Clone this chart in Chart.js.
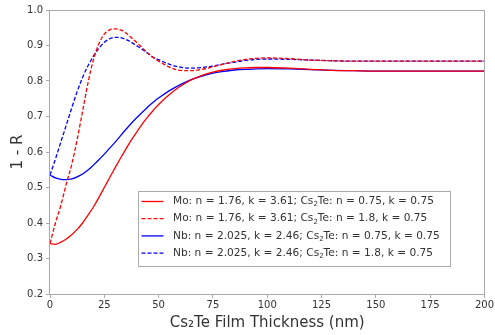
<!DOCTYPE html>
<html><head><meta charset="utf-8">
<script src="https://cdn.jsdelivr.net/npm/chart.js@4/dist/chart.umd.min.js"></script>
<style>html,body{margin:0;padding:0;background:#fff}</style>
</head><body>
<canvas id="c" width="495" height="335"></canvas>
<script>
const thickness = [0,2.5,5,7.5,10,12.5,15,17.5,20,22.5,25,27.5,30,32.5,35,37.5,40,42.5,45,47.5,50,55,60,65,70,75,80,85,90,95,100,110,120,130,140,150,160,170,180,190,200];
const moThin  = [0.342,0.340,0.346,0.355,0.367,0.382,0.400,0.422,0.445,0.472,0.500,0.528,0.556,0.583,0.609,0.634,0.657,0.679,0.699,0.717,0.734,0.762,0.785,0.803,0.816,0.825,0.831,0.835,0.837,0.838,0.838,0.836,0.833,0.830,0.829,0.828,0.828,0.828,0.828,0.828,0.828];
const moThick = [0.342,0.400,0.450,0.510,0.565,0.635,0.715,0.795,0.860,0.905,0.932,0.944,0.947,0.944,0.935,0.922,0.908,0.893,0.879,0.866,0.856,0.839,0.830,0.829,0.833,0.840,0.848,0.855,0.861,0.864,0.865,0.863,0.859,0.857,0.856,0.856,0.856,0.856,0.856,0.856,0.856];
const nbThin  = [0.535,0.527,0.523,0.522,0.524,0.530,0.538,0.549,0.563,0.578,0.594,0.611,0.628,0.646,0.664,0.681,0.697,0.712,0.727,0.740,0.752,0.773,0.790,0.804,0.814,0.822,0.827,0.831,0.833,0.834,0.835,0.834,0.832,0.830,0.829,0.828,0.828,0.828,0.828,0.828,0.828];
const nbThick = [0.535,0.580,0.628,0.676,0.724,0.770,0.810,0.843,0.870,0.892,0.909,0.919,0.923,0.922,0.917,0.909,0.899,0.889,0.878,0.867,0.860,0.847,0.839,0.836,0.838,0.842,0.848,0.853,0.858,0.861,0.862,0.861,0.859,0.857,0.856,0.856,0.856,0.856,0.856,0.856,0.856];
const seriesLabels = [
  'Mo: n = 1.76, k = 3.61; Cs₂Te: n = 0.75, k = 0.75',
  'Mo: n = 1.76, k = 3.61; Cs₂Te: n = 1.8, k = 0.75',
  'Nb: n = 2.025, k = 2.46; Cs₂Te: n = 0.75, k = 0.75',
  'Nb: n = 2.025, k = 2.46; Cs₂Te: n = 1.8, k = 0.75'
];
const xTicks = [0,25,50,75,100,125,150,175,200];
const yTicks = [0.2,0.3,0.4,0.5,0.6,0.7,0.8,0.9,1.0];
const xTitle = 'Cs₂Te Film Thickness (nm)';
const yTitle = '1 - R';

const FONT = "'DejaVu Sans', sans-serif";
const frameColor = '#aaaaaa';
const textColor = '#333333';

function pts(vals){ return thickness.map((t,i)=>({x:t,y:vals[i]})); }
function ds(label, vals, color, dash){
  return {label, data: pts(vals), borderColor: color, backgroundColor: color,
    borderWidth: 1.3, borderDash: dash, pointRadius: 0, cubicInterpolationMode: 'monotone', fill: false};
}

function drawRich(ctx, text, x, y, size){
  const parts = text.split('₂');
  let cx = x;
  parts.forEach((p, i) => {
    ctx.font = size + 'px ' + FONT;
    ctx.fillText(p, cx, y);
    cx += ctx.measureText(p).width;
    if (i < parts.length - 1) {
      ctx.font = Math.round(size*0.7) + 'px ' + FONT;
      ctx.fillText('2', cx, y + size*0.3);
      cx += ctx.measureText('2').width;
    }
  });
  return cx - x;
}
function richWidth(ctx, text, size){
  const parts = text.split('₂');
  let w = 0;
  parts.forEach((p,i)=>{
    ctx.font = size + 'px ' + FONT; w += ctx.measureText(p).width;
    if (i < parts.length-1){ ctx.font = Math.round(size*0.7)+'px '+FONT; w += ctx.measureText('2').width; }
  });
  return w;
}

const framePlugin = {
  id: 'frame',
  afterDraw(chart){
    const {ctx, chartArea: a} = chart;
    ctx.save();
    ctx.strokeStyle = frameColor; ctx.lineWidth = 1;
    ctx.strokeRect(Math.round(a.left)-0.5, Math.round(a.top)+0.5, Math.round(a.right-a.left)+1, Math.round(a.bottom-a.top));
    const size = 10.6, rowH = 17.2;
    const bx = a.left + 87.5, by = a.top + 181;
    let maxW = 0;
    chart.data.datasets.forEach(d => { maxW = Math.max(maxW, richWidth(ctx, d.label, size)); });
    const bw = 35 + maxW + 10, bh = 75;
    ctx.fillStyle = 'rgba(255,255,255,0.9)';
    ctx.fillRect(bx, by, bw, bh);
    ctx.strokeStyle = frameColor;
    ctx.strokeRect(Math.round(bx)+0.5, Math.round(by)+0.5, Math.round(bw), Math.round(bh));
    chart.data.datasets.forEach((d, i) => {
      const yy = by + 10.5 + i*rowH;
      ctx.strokeStyle = d.borderColor; ctx.lineWidth = 1.3;
      ctx.setLineDash(d.borderDash || []);
      ctx.beginPath(); ctx.moveTo(bx+4, yy); ctx.lineTo(bx+26, yy); ctx.stroke();
      ctx.setLineDash([]);
      ctx.fillStyle = textColor; ctx.textBaseline = 'middle'; ctx.textAlign = 'left';
      drawRich(ctx, d.label, bx+35.5, yy, size);
    });
    ctx.restore();
  }
};

new Chart(document.getElementById('c'), {
  type: 'line',
  data: { datasets: [
    ds(seriesLabels[0], moThin, '#ff0000', []),
    ds(seriesLabels[1], moThick, '#ff0000', [4,2]),
    ds(seriesLabels[2], nbThin, '#0000ff', []),
    ds(seriesLabels[3], nbThick, '#0000ff', [4,2])
  ]},
  options: {
    responsive: false, devicePixelRatio: 1, animation: false,
    layout: { padding: { top: 10, right: 10, left: 0, bottom: 0 } },
    plugins: { legend: { display: false }, tooltip: { enabled: false } },
    scales: {
      x: {
        type: 'linear', min: 0, max: 200,
        afterBuildTicks: s => { s.ticks = xTicks.map(v => ({value: v})); },
        afterFit: s => { s.height = 41; },
        ticks: { callback: v => String(v), font: { family: FONT, size: 10 }, color: textColor, padding: 1, maxRotation: 0 },
        grid: { drawOnChartArea: false, tickLength: 4, color: frameColor, tickColor: frameColor },
        border: { display: false },
        title: { display: true, text: xTitle, font: { family: FONT, size: 15 }, color: textColor, padding: { top: 2, bottom: 3 } }
      },
      y: {
        type: 'linear', min: 0.2, max: 1.0,
        afterBuildTicks: s => { s.ticks = yTicks.map(v => ({value: v})); },
        afterFit: s => { s.width = 50; },
        ticks: { callback: v => Number(v).toFixed(1), font: { family: FONT, size: 10 }, color: textColor, padding: 3 },
        grid: { drawOnChartArea: false, tickLength: 4, color: frameColor, tickColor: frameColor },
        border: { display: false },
        title: { display: true, text: yTitle, font: { family: FONT, size: 15 }, color: textColor, padding: { top: 9, bottom: 2 } }
      }
    }
  },
  plugins: [framePlugin]
});
</script>
</body></html>
